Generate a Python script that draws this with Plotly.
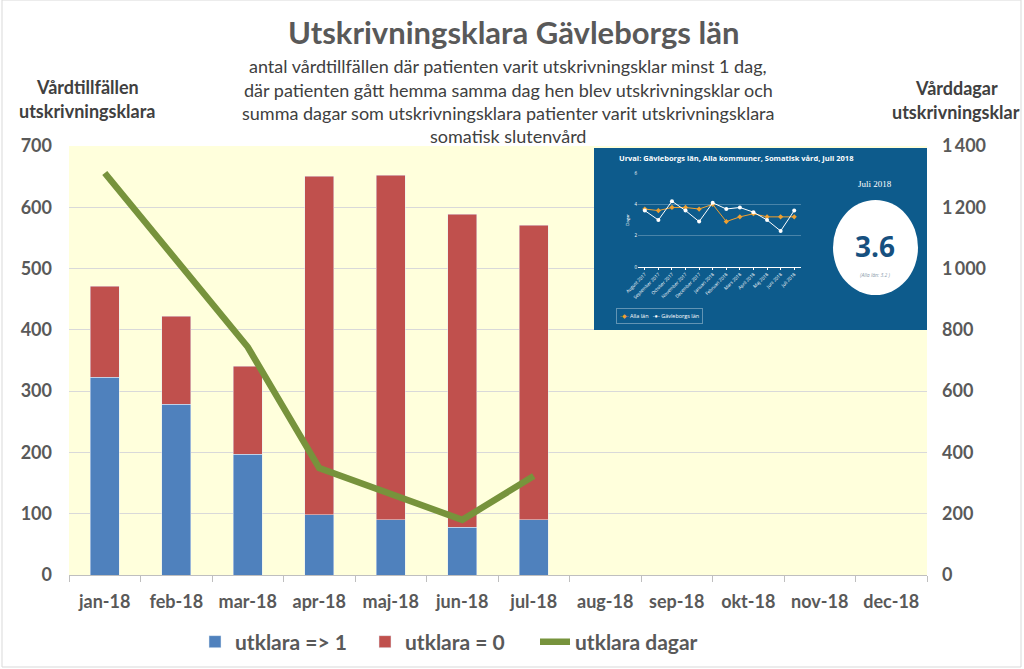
import plotly.graph_objects as go

# ---------------- data ----------------
months = ["jan-18", "feb-18", "mar-18", "apr-18", "maj-18", "jun-18",
          "jul-18", "aug-18", "sep-18", "okt-18", "nov-18", "dec-18"]
utklara_ge1 = [323, 279, 197, 98, 90, 78, 90]
utklara_0 = [148, 143, 144, 553, 562, 511, 481]
utklara_dagar = [1312, 1030, 744, 349, 264, 180, 323]

y2_ticks = [0, 200, 400, 600, 800, 1000, 1200, 1400]
y2_ticktext = ["0", "200", "400", "600", "800", "1\u2009000", "1\u2009200", "1\u2009400"]

inset_months = ["August 2017", "September 2017", "October 2017", "November 2017",
                "December 2017", "Januari 2018", "Februari 2018", "Mars 2018",
                "April 2018", "Maj 2018", "Juni 2018", "Juli 2018"]
alla_lan = [3.7, 3.6, 3.8, 3.8, 3.7, 4.0, 2.9, 3.2, 3.4, 3.2, 3.2, 3.2]
gavleborg = [3.6, 3.0, 4.2, 3.6, 2.9, 4.1, 3.7, 3.8, 3.5, 3.0, 2.3, 3.6]

# ---------------- geometry helpers ----------------
W, H = 1024, 669
L, R, T, B = 69, 927, 146, 575


def px_x(px):
    return (px - L) / (R - L)


def px_y(py):
    return (B - py) / (B - T)


GRAY = "#595959"
DARK = "#404040"
BLUE = "#4F81BD"
RED = "#C0504D"
GREEN = "#77933C"
INSET = "#0D5B8C"
FONT = "Lato"

fig = go.Figure()

fig.add_trace(go.Bar(x=months[:len(utklara_ge1)], y=utklara_ge1, name="utklara => 1",
                     marker_color=BLUE, width=0.4))
fig.add_trace(go.Bar(x=months[:len(utklara_0)], y=utklara_0, name="utklara = 0",
                     marker_color=RED, width=0.4))
fig.add_trace(go.Scatter(x=months[:len(utklara_dagar)], y=utklara_dagar, name="utklara dagar",
                         mode="lines", line=dict(color=GREEN, width=6.5), yaxis="y2"))

# inset background (subplot x3/y3)
fig.add_trace(go.Scatter(x=[0, 1, 1, 0, 0], y=[0, 0, 1, 1, 0], xaxis="x3", yaxis="y3",
                         fill="toself", fillcolor=INSET, mode="lines",
                         line=dict(width=0, color=INSET), showlegend=False,
                         hoverinfo="skip"))

# inset line chart (subplot x4/y4)
fig.add_trace(go.Scatter(x=inset_months, y=alla_lan, xaxis="x4", yaxis="y4",
                         name="Alla län", mode="lines+markers",
                         line=dict(color="#F0A030", width=1),
                         marker=dict(symbol="diamond", size=4, color="#F0A030"),
                         showlegend=False))
fig.add_trace(go.Scatter(x=inset_months, y=gavleborg, xaxis="x4", yaxis="y4",
                         name="Gävleborgs län", mode="lines+markers",
                         line=dict(color="white", width=1),
                         marker=dict(symbol="circle", size=4, color="white"),
                         showlegend=False))

shapes = [
    # plot area background
    dict(type="rect", xref="paper", yref="paper", x0=0, x1=1, y0=0, y1=1,
         fillcolor="#FFFFDC", line=dict(width=0), layer="below"),
    # outer chart border
    dict(type="rect", xref="paper", yref="paper", x0=px_x(2), x1=px_x(1021),
         y0=px_y(667), y1=px_y(0), line=dict(color="#D9D9D9", width=1),
         layer="below"),
    # white circle in inset
    dict(type="circle", xref="paper", yref="paper", x0=px_x(833), x1=px_x(918),
         y0=px_y(295), y1=px_y(200), fillcolor="white", line=dict(width=0),
         layer="above"),
]

annotations = [
    dict(text="<b>Utskrivningsklara Gävleborgs län</b>", x=px_x(513), y=px_y(32),
         font=dict(size=31, color=GRAY, family=FONT)),
    dict(text="antal vårdtillfällen där patienten varit utskrivningsklar minst 1 dag,",
         x=px_x(508), y=px_y(66), font=dict(size=18, color=DARK, family=FONT)),
    dict(text="där patienten gått hemma samma dag hen blev utskrivningsklar och",
         x=px_x(508), y=px_y(90), font=dict(size=18, color=DARK, family=FONT)),
    dict(text="summa dagar som utskrivningsklara patienter varit utskrivningsklara",
         x=px_x(508), y=px_y(113), font=dict(size=18, color=DARK, family=FONT)),
    dict(text="somatisk slutenvård", x=px_x(508), y=px_y(136),
         font=dict(size=18, color=DARK, family=FONT)),
    dict(text="<b>Vårdtillfällen</b>", x=px_x(87), y=px_y(87),
         font=dict(size=18, color=DARK, family=FONT)),
    dict(text="<b>utskrivningsklara</b>", x=px_x(87), y=px_y(111),
         font=dict(size=18, color=DARK, family=FONT)),
    dict(text="<b>Vårddagar</b>", x=px_x(956), y=px_y(88),
         font=dict(size=18, color=DARK, family=FONT)),
    dict(text="<b>utskrivningsklar</b>", x=px_x(956), y=px_y(112),
         font=dict(size=18, color=DARK, family=FONT)),
    # inset texts
    dict(text="<b>Urval: Gävleborgs län, Alla kommuner, Somatisk vård, Juli 2018</b>",
         x=px_x(617), y=px_y(158), xanchor="left",
         font=dict(size=7.5, color="white", family="Open Sans")),
    dict(text="Juli 2018", x=px_x(875), y=px_y(184),
         font=dict(size=9, color="white", family="Liberation Serif")),
    dict(text="<b>3.6</b>", x=px_x(875), y=px_y(246),
         font=dict(size=28, color="#16507F", family="Open Sans")),
    dict(text="<i>(Alla län: 3.2 )</i>", x=px_x(875), y=px_y(275),
         font=dict(size=5, color="#8A9AAA", family="Open Sans")),
    dict(text="<span style='color:#F0A030'>-◆-</span> Alla län   "
              "<span style='color:white'>-●-</span> Gävleborgs län",
         x=px_x(659), y=px_y(316), bordercolor="rgba(255,255,255,0.35)",
         borderwidth=1, borderpad=3,
         font=dict(size=5.5, color="white", family="Open Sans")),
]
for a in annotations:
    a.setdefault("xref", "paper")
    a.setdefault("yref", "paper")
    a.setdefault("showarrow", False)
    a.setdefault("xanchor", "center")
    a.setdefault("yanchor", "middle")

fig.update_layout(
    width=W, height=H,
    margin=dict(l=L, r=W - R, t=T, b=H - B, autoexpand=False),
    paper_bgcolor="white",
    plot_bgcolor="rgba(0,0,0,0)",
    barmode="stack",
    font=dict(family=FONT, color=GRAY),
    shapes=shapes,
    annotations=annotations,
    showlegend=True,
    legend=dict(orientation="h", xref="container", yref="container",
                x=450 / W, xanchor="center", y=(H - 642) / H,
                yanchor="middle",
                font=dict(size=21, color=GRAY, family=FONT, weight="bold"),
                traceorder="normal", itemwidth=30, entrywidth=125),
    xaxis=dict(type="category", categoryorder="array", categoryarray=months,
               range=[-0.5, 11.5], showline=True, linecolor="#BFBFBF",
               ticks="outside", tickson="boundaries", ticklen=6, tickcolor="#BFBFBF",
               ticklabelstandoff=10,
               tickfont=dict(size=18, color=GRAY, family=FONT, weight="bold"),
               showgrid=False),
    yaxis=dict(range=[0, 700], dtick=100, gridcolor="#D9D9D9", showline=False,
               zeroline=False, ticks="", ticklabelstandoff=16,
               tickfont=dict(size=18, color=GRAY, family=FONT, weight="bold")),
    yaxis2=dict(range=[0, 1400], tickvals=y2_ticks, ticktext=y2_ticktext,
                overlaying="y", side="right",
                showgrid=False, zeroline=False, ticklabelstandoff=14,
                tickfont=dict(size=18, color=GRAY, family=FONT, weight="bold")),
    xaxis3=dict(domain=[px_x(594), 1.0], range=[0, 1], visible=False, fixedrange=True),
    yaxis3=dict(domain=[px_y(330), px_y(148)], range=[0, 1], visible=False,
                fixedrange=True),
    xaxis4=dict(domain=[px_x(638), px_x(801)], anchor="y4", type="category",
                range=[-0.5, 11.5], showgrid=False, showline=False,
                ticks="outside", ticklen=2, tickcolor="white", tickangle=-45,
                tickfont=dict(size=4.5, color="white", family="Open Sans")),
    yaxis4=dict(domain=[px_y(267), px_y(173)], anchor="x4", range=[0, 6],
                tickvals=[0, 2, 4, 6], gridcolor="rgba(255,255,255,0.25)",
                zeroline=True, zerolinecolor="white", zerolinewidth=1,
                tickfont=dict(size=4.5, color="white", family="Open Sans"),
                title=dict(text="Dagar", font=dict(size=4.5, color="white"), standoff=4)),
)

fig.write_html("out.html", config={"displayModeBar": False},
               post_script="document.body.style.margin='0';document.body.style.overflow='hidden';")
